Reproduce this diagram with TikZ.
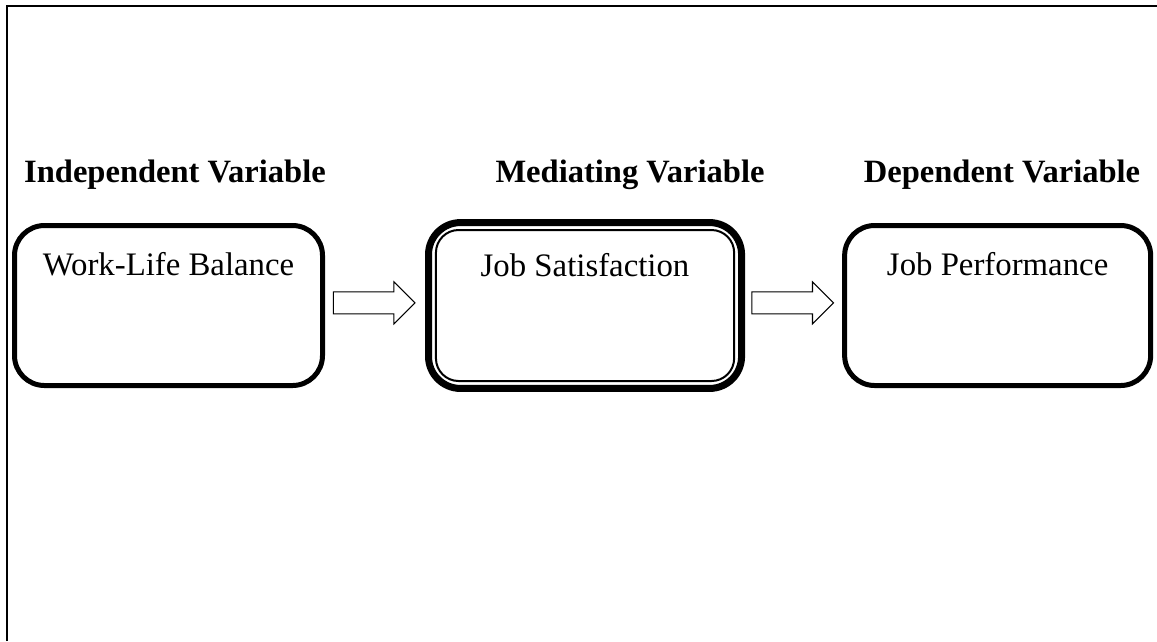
\documentclass[tikz,border=0pt]{standalone}
\usepackage{fontspec}
\setmainfont{Liberation Serif}
\usepackage{tikz}
\usetikzlibrary{positioning, calc, shapes.arrows}
\tikzset{
    varbox/.style={
        draw=black,
        rounded corners=11.25pt,
        align=center,
        inner sep=0pt,
        font=\fontsize{12.3}{14}\selectfont,
        text height=18.6pt,
        text depth=41.4pt
    },
    outerbox/.style={varbox, line width=1.875pt},
    medbox/.style={varbox, line width=2.625pt, rounded corners=12pt,
        text height=20.4pt, text depth=41.8pt},
    innerline/.style={draw=black, line width=0.75pt, rounded corners=8.5pt},
    heading/.style={anchor=base, font=\fontsize{12.2}{14}\selectfont\bfseries},
    blockarrow/.style={
        single arrow, draw=black, line width=0.4pt, fill=white,
        minimum height=30.6pt, minimum width=15.4pt,
        single arrow head extend=3.75pt, single arrow head indent=0pt,
        inner xsep=0pt, inner ysep=3.94pt
    },
    frameline/.style={draw=black, line width=0.8pt}
}
\begin{document}
\begin{tikzpicture}[x=0.375pt, y=-0.375pt, node distance=37.5pt]
    \useasboundingbox (0,0) rectangle (1157,641);
    \draw[frameline] (7.3,641) |- (1157,6);

    \node[outerbox, minimum width=115.5pt] (wlb) at (168.5,305.5) {Work-Life Balance};
    \node[medbox, minimum width=117.4pt, right=of wlb] (js) {Job Satisfaction};
    \node[outerbox, minimum width=114.75pt, right=36.4pt of js] (jp) {Job Performance};
    \draw[innerline] ([shift={(4.1pt,-4.1pt)}]js.north west) rectangle ([shift={(-4.1pt,4.1pt)}]js.south east);

    \node[heading] (indep) at (175,182) {Independent Variable};
    \node[heading] (medi) at (630,182) {Mediating Variable};
    \node[heading] (dep) at (1002,182) {Dependent Variable};

    \node[blockarrow, xshift=-2.4pt, yshift=1.0pt] (a1) at ($(wlb.east)!0.5!(js.west)$) {};
    \node[blockarrow, xshift=-2.4pt, yshift=1.0pt] (a2) at ($(js.east)!0.5!(jp.west)$) {};
\end{tikzpicture}
\end{document}
